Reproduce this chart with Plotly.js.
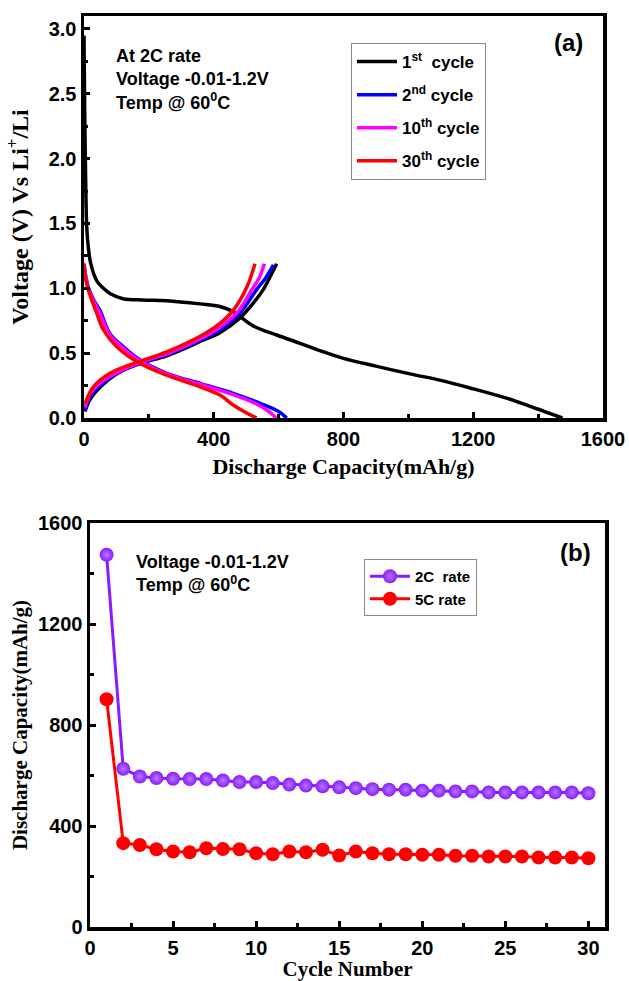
<!DOCTYPE html>
<html>
<head>
<meta charset="utf-8">
<script src="https://cdn.plot.ly/plotly-3.0.1.min.js"></script>
<style>html,body{margin:0;padding:0;background:#fff;}#chart{width:629px;height:981px;}</style>
</head>
<body>
<div id="chart"></div>
<script>
// ---------- Panel (a): voltage profiles ----------
const c1DisX = [0, 2, 5, 8, 12, 20, 39, 60, 80, 120, 180, 255, 358, 419, 460, 522, 594, 666, 727, 800, 900, 1005, 1100, 1200, 1300, 1365, 1420, 1475];
const c1DisY = [2.95, 2.4, 1.85, 1.5, 1.35, 1.2, 1.06, 1.0, 0.96, 0.92, 0.91, 0.905, 0.88, 0.86, 0.82, 0.71, 0.64, 0.576, 0.52, 0.46, 0.40, 0.34, 0.29, 0.225, 0.155, 0.10, 0.05, 0.0];
const c1ChX = [3, 20, 50, 100, 170, 255, 358, 420, 480, 520, 555, 580, 594];
const c1ChY = [0.05, 0.15, 0.24, 0.34, 0.42, 0.48, 0.59, 0.66, 0.77, 0.88, 1.0, 1.12, 1.19];

const c2DisX = [0, 5, 13, 30, 49, 80, 121, 173, 255, 358, 460, 543, 600, 625];
const c2DisY = [1.19, 1.1, 1.01, 0.91, 0.83, 0.65, 0.55, 0.447, 0.345, 0.267, 0.19, 0.113, 0.05, 0.0];
const c2ChX = [3, 18, 49, 101, 173, 255, 358, 419, 481, 532, 560, 584];
const c2ChY = [0.06, 0.16, 0.25, 0.345, 0.42, 0.486, 0.60, 0.68, 0.81, 0.99, 1.08, 1.18];

const c10DisX = [0, 5, 13, 30, 49, 80, 121, 173, 255, 358, 460, 530, 570, 592];
const c10DisY = [1.19, 1.09, 1.0, 0.9, 0.81, 0.64, 0.54, 0.44, 0.34, 0.26, 0.18, 0.11, 0.05, 0.0];
const c10ChX = [3, 20, 55, 110, 175, 255, 358, 419, 475, 515, 540, 556];
const c10ChY = [0.08, 0.19, 0.28, 0.36, 0.43, 0.495, 0.61, 0.70, 0.82, 0.98, 1.08, 1.19];

const c30DisX = [0, 5, 13, 39, 60, 101, 173, 255, 358, 419, 460, 500, 532];
const c30DisY = [1.19, 1.07, 0.99, 0.81, 0.68, 0.55, 0.42, 0.33, 0.24, 0.177, 0.10, 0.04, 0.0];
const c30ChX = [3, 29, 80, 152, 255, 358, 419, 460, 502, 527];
const c30ChY = [0.11, 0.24, 0.345, 0.42, 0.51, 0.63, 0.73, 0.83, 1.01, 1.19];

const cycleNames = ['1<sup>st</sup>\u00a0\u00a0cycle', '2<sup>nd</sup> cycle', '10<sup>th</sup> cycle', '30<sup>th</sup> cycle'];
const cycleColors = ['#000000', '#0000FF', '#FF00FF', '#FF0000'];

// ---------- Panel (b): cycling ----------
const cycleNum = [1,2,3,4,5,6,7,8,9,10,11,12,13,14,15,16,17,18,19,20,21,22,23,24,25,26,27,28,29,30];
const cap2C = [1474, 627, 596, 590, 587, 586, 586, 580, 574, 574, 570, 564, 560, 557, 553, 550, 546, 544, 544, 540, 540, 537, 537, 533, 533, 533, 533, 533, 533, 530];
const cap5C = [902, 332, 325, 308, 299, 296, 312, 309, 308, 292, 288, 299, 296, 306, 283, 299, 292, 288, 288, 286, 286, 282, 282, 279, 279, 279, 275, 275, 275, 272];
const rateNames = ['2C\u00a0\u00a0rate', '5C rate'];
const rateColors = ['#8B1AFF', '#FF0000'];

const W = 629, H = 981;
const lw = 3.5;
const traces = [];
const cyc = [[c1DisX, c1DisY, c1ChX, c1ChY], [c2DisX, c2DisY, c2ChX, c2ChY], [c10DisX, c10DisY, c10ChX, c10ChY], [c30DisX, c30DisY, c30ChX, c30ChY]];
cyc.forEach((c, i) => {
  traces.push({x: c[0], y: c[1], xaxis: 'x', yaxis: 'y', mode: 'lines', line: {color: cycleColors[i], width: lw, shape: 'spline'},
    name: cycleNames[i], legend: 'legend', legendgroup: 'g' + i, showlegend: true});
  traces.push({x: c[2], y: c[3], xaxis: 'x', yaxis: 'y', mode: 'lines', line: {color: cycleColors[i], width: lw, shape: 'spline'},
    name: cycleNames[i], legend: 'legend', legendgroup: 'g' + i, showlegend: false});
});
traces.push({x: cycleNum, y: cap2C, xaxis: 'x2', yaxis: 'y2', mode: 'lines+markers', name: rateNames[0], legend: 'legend2',
  line: {color: rateColors[0], width: 3}, marker: {color: rateColors[0], size: 14, gradient: {type: 'radial', color: '#B27AFF'}}});
traces.push({x: cycleNum, y: cap5C, xaxis: 'x2', yaxis: 'y2', mode: 'lines+markers', name: rateNames[1], legend: 'legend2',
  line: {color: rateColors[1], width: 3}, marker: {color: rateColors[1], size: 14}});

const sans = 'Arial, "Liberation Sans", sans-serif';
const serif = '"Times New Roman", "Liberation Serif", serif';
const tickFont = {family: sans, size: 20, color: '#000', weight: 'bold'};
function ax(domain, range, dtick, minorD, anchor, title, tsize, standoff, fmt) {
  return {domain: domain, range: range, dtick: dtick, tick0: 0, anchor: anchor, showgrid: false, zeroline: false,
    showline: true, linecolor: '#000', linewidth: 3.5, mirror: true, ticks: 'inside', ticklen: 6, tickwidth: 3, tickcolor: '#000',
    minor: {ticks: 'inside', ticklen: 4, tickwidth: 3, tickcolor: '#000', dtick: minorD, showgrid: false},
    tickformat: fmt, tickprefix: '<b>', ticksuffix: '</b>',
    tickfont: tickFont, title: {text: title, font: {family: serif, size: tsize, color: '#000', weight: 'bold'}, standoff: standoff}, fixedrange: true};
}
const layout = {
  width: W, height: H, margin: {l: 0, r: 0, t: 0, b: 0}, paper_bgcolor: '#fff', plot_bgcolor: '#fff',
  xaxis: ax([84 / W, 603 / W], [0, 1600], 400, 200, 'y', 'Discharge Capacity(mAh/g)', 22, 11, 'd'),
  yaxis: ax([1 - 418 / H, 1 - 16 / H], [0, 3.1], 0.5, 0.25, 'x', 'Voltage (V) Vs Li<sup>+</sup>/Li', 24, 14, '.1f'),
  xaxis2: ax([90 / W, 605 / W], [0, 31], 5, 2.5, 'y2', 'Cycle Number', 21, 12, 'd'),
  yaxis2: ax([1 - 927 / H, 1 - 523 / H], [0, 1600], 400, 200, 'x2', 'Discharge Capacity(mAh/g)', 21, 5, 'd'),
  legend: {x: 351 / W, y: 1 - 43 / H, xanchor: 'left', yanchor: 'top', bgcolor: '#fff', bordercolor: '#888', borderwidth: 1,
    font: {family: sans, size: 17, color: '#000', weight: 'bold'}, tracegroupgap: 8, itemwidth: 40},
  legend2: {x: 364 / W, y: 1 - 559 / H, xanchor: 'left', yanchor: 'top', bgcolor: '#fff', bordercolor: '#888', borderwidth: 1,
    font: {family: sans, size: 15, color: '#000', weight: 'bold'}, tracegroupgap: 0, itemwidth: 40},
  annotations: [
    {xref: 'paper', yref: 'paper', x: 114 / W, y: 1 - 44 / H, xanchor: 'left', yanchor: 'top', align: 'left', showarrow: false,
     text: 'At 2C rate<br>Voltage -0.01-1.2V<br>Temp @ 60<sup>0</sup>C', font: {family: sans, size: 18, color: '#000', weight: 'bold'}},
    {xref: 'paper', yref: 'paper', x: 568 / W, y: 1 - 43 / H, xanchor: 'center', yanchor: 'middle', showarrow: false,
     text: '(a)', font: {family: sans, size: 24, color: '#000', weight: 'bold'}},
    {xref: 'paper', yref: 'paper', x: 134 / W, y: 1 - 550 / H, xanchor: 'left', yanchor: 'top', align: 'left', showarrow: false,
     text: 'Voltage -0.01-1.2V<br>Temp @ 60<sup>0</sup>C', font: {family: sans, size: 18, color: '#000', weight: 'bold'}},
    {xref: 'paper', yref: 'paper', x: 575 / W, y: 1 - 552 / H, xanchor: 'center', yanchor: 'middle', showarrow: false,
     text: '(b)', font: {family: sans, size: 24, color: '#000', weight: 'bold'}}
  ]
};
Plotly.newPlot('chart', traces, layout, {displayModeBar: false, staticPlot: true});
</script>
</body>
</html>
